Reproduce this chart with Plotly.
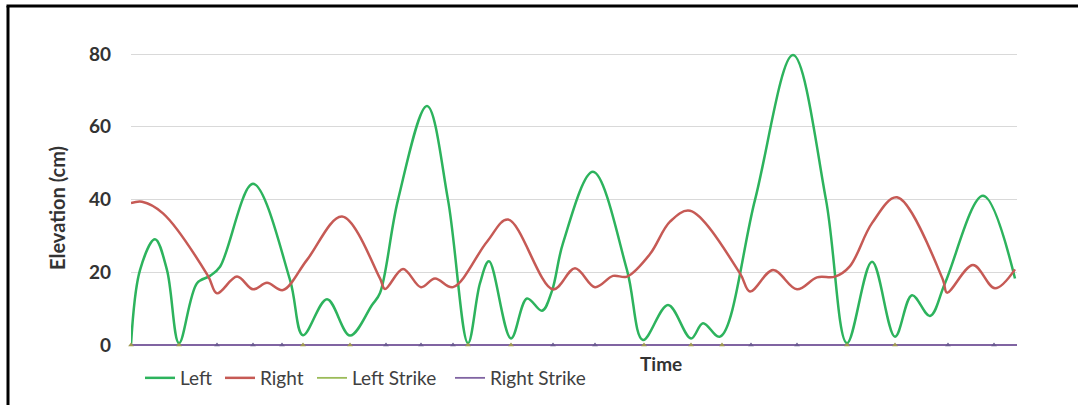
import plotly.graph_objects as go

# ---- data (time in s, elevation in cm) ----
left_t = [0.00, 0.09, 0.24, 0.36, 0.48, 0.66, 0.79, 0.89, 1.22, 1.59, 1.72,
          1.96, 2.19, 2.41, 2.49, 2.67, 2.96, 3.17, 3.37, 3.49, 3.58, 3.80,
          3.96, 4.11, 4.21, 4.32, 4.62, 4.96, 5.12, 5.37, 5.60, 5.72, 5.89, 6.24,
          6.62, 6.95, 7.16, 7.41, 7.64, 7.81, 7.99, 8.14, 8.52, 8.84]
left_y = [0, 20.6, 29.1, 20.6, 0.5, 17, 19, 21.5, 44.3, 17.9, 2.7,
          12.6, 2.6, 11, 14.3, 39.9, 65.7, 39.9, 0.5, 17, 23, 1.8,
          12.8, 9.4, 14.9, 28, 47.6, 20.6, 1.4, 11, 1.8, 6, 2.3, 39.9,
          79.7, 39.9, 0.5, 22.9, 2.3, 13.7, 8, 17, 41, 18.3]

right_t = [0.00, 0.11, 0.32, 0.77, 0.86, 1.06, 1.22, 1.36, 1.52, 1.76, 2.11,
           2.49, 2.54, 2.72, 2.90, 3.04, 3.22, 3.56, 3.77, 4.22, 4.44, 4.64, 4.82,
           4.96, 5.19, 5.39, 5.59, 6.09, 6.19, 6.42, 6.66, 6.86, 7.04, 7.19, 7.41,
           7.66, 8.12, 8.16, 8.42, 8.64, 8.84]
right_y = [39, 39.4, 36.2, 19, 14.2, 18.8, 15.3, 17.1, 15.1, 23.4, 35.3,
           18.3, 15.4, 20.9, 15.9, 18.3, 15.9, 28.4, 34.5, 15.3, 21.1, 15.9, 19,
           18.8, 25, 33.9, 36.9, 19.7, 14.7, 20.6, 15.3, 18.6, 18.8, 21.7, 33.5,
           40.6, 17.9, 14.4, 22, 15.6, 20.8]

left_strike_t = [0.00, 0.48, 1.72, 2.19, 3.37, 3.80, 5.13, 5.60, 5.91, 7.16, 7.64]
right_strike_t = [0.86, 1.22, 1.51, 2.55, 2.90, 3.22, 4.22, 4.64, 6.20, 6.66, 8.17, 8.63]

y_ticks = [0, 20, 40, 60, 80]
series_names = ["Left", "Right", "Left Strike", "Right Strike"]

# ---- styling ----
C_LEFT = "#2db35d"
C_RIGHT = "#c65a55"
C_LS = "#9bbb59"
C_RS = "#8064a2"
FONT = "Lato"
TXT = "#404040"

W, H = 1078, 405
PL, PR = 131, 1017          # plot area left/right pixels
Y0PX, Y80PX = 345, 54       # pixel rows of y=0 and y=80
PT, PB = 36, 349            # plot area top/bottom pixels
ppu = (Y0PX - Y80PX) / 80.0
YMAX = (Y0PX - PT) / ppu
YMIN = (Y0PX - PB) / ppu
XMIN, XMAX = 0.0, 8.86


def px_x(px):
    return (px - PL) / (PR - PL)


def px_y(py):
    return (PB - py) / (PB - PT)


fig = go.Figure()

fig.add_trace(go.Scatter(x=left_t, y=left_y, mode="lines", name=series_names[0],
                         line=dict(color=C_LEFT, width=2.5, shape="spline", smoothing=1.0),
                         legend="legend"))
fig.add_trace(go.Scatter(x=right_t, y=right_y, mode="lines", name=series_names[1],
                         line=dict(color=C_RIGHT, width=2.5, shape="spline", smoothing=1.0),
                         legend="legend2"))
fig.add_trace(go.Scatter(x=[XMIN, XMAX], y=[0, 0], mode="lines", name=series_names[2],
                         line=dict(color=C_LS, width=1.8), legend="legend3"))
fig.add_trace(go.Scatter(x=[XMIN, XMAX], y=[0, 0], mode="lines", name=series_names[3],
                         line=dict(color=C_RS, width=1.8), legend="legend4"))
fig.add_trace(go.Scatter(x=left_strike_t, y=[0] * len(left_strike_t), mode="markers",
                         marker=dict(symbol="triangle-up", size=5, color="#a09a50"),
                         showlegend=False, cliponaxis=False))
fig.add_trace(go.Scatter(x=right_strike_t, y=[0] * len(right_strike_t), mode="markers",
                         marker=dict(symbol="triangle-up", size=5, color="#6a5a90"),
                         showlegend=False, cliponaxis=False))

leg_common = dict(orientation="h", yanchor="middle", xanchor="left",
                  bgcolor="rgba(0,0,0,0)", font=dict(family=FONT, size=19, color=TXT))
leg_y = px_y(378)

fig.update_layout(
    width=W, height=H,
    margin=dict(l=PL, r=W - PR, t=PT, b=H - PB, pad=0, autoexpand=False),
    paper_bgcolor="white", plot_bgcolor="white",
    font=dict(family=FONT, color=TXT),
    xaxis=dict(range=[XMIN, XMAX], showticklabels=False, showgrid=False,
               zeroline=False, showline=False, ticks="", automargin=False),
    yaxis=dict(range=[YMIN, YMAX], tickvals=y_ticks, showgrid=True,
               gridcolor="#d9d9d9", gridwidth=1, zeroline=False, showline=False,
               ticks="", ticklabelstandoff=19, automargin=False,
               tickfont=dict(family=FONT, size=19, color="#333333", weight="bold")),
    legend=dict(x=px_x(140), y=leg_y, **leg_common),
    legend2=dict(x=px_x(220), y=leg_y, **leg_common),
    legend3=dict(x=px_x(312), y=leg_y, **leg_common),
    legend4=dict(x=px_x(450), y=leg_y, **leg_common),
    annotations=[
        dict(text="<b>Time</b>", xref="paper", yref="paper", x=px_x(661), y=px_y(363),
             xanchor="center", yanchor="middle", showarrow=False,
             font=dict(family=FONT, size=19, color="#333333")),
        dict(text="<b>Elevation (cm)</b>", xref="paper", yref="paper", x=px_x(57),
             y=px_y(208), xanchor="center", yanchor="middle", textangle=-90,
             showarrow=False, font=dict(family=FONT, size=20, color="#333333")),
    ],
    shapes=[
        dict(type="line", xref="paper", yref="paper", x0=px_x(8), x1=px_x(8),
             y0=px_y(6), y1=px_y(420), line=dict(color="black", width=3)),
        dict(type="line", xref="paper", yref="paper", x0=px_x(6.5), x1=px_x(1090),
             y0=px_y(6), y1=px_y(6), line=dict(color="black", width=3)),
    ],
)

fig.write_html("out.html")
